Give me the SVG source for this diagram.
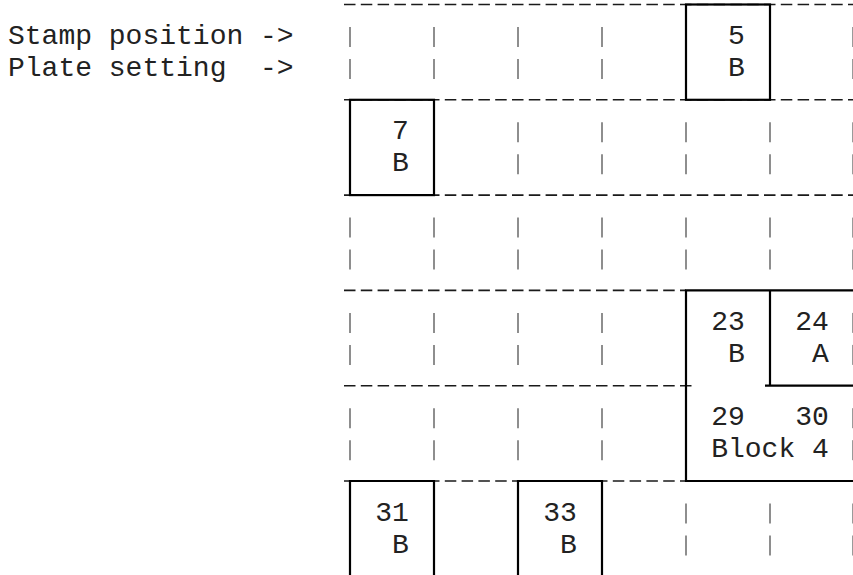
<svg xmlns="http://www.w3.org/2000/svg" width="853" height="575" viewBox="0 0 853 575">
<style>
text{font-family:"Liberation Mono","DejaVu Sans Mono",monospace;font-size:28px;fill:#222;white-space:pre}
.dash{stroke:#1a1a1a;stroke-width:1.6;stroke-dasharray:11.5 5.3;fill:none}
.bar{stroke:#6a6a6a;stroke-width:1.5;fill:none}
.edge{stroke:#9a9a9a;stroke-width:1;fill:none}
.box{stroke:#000;stroke-width:2.2;fill:none}
</style>
<rect width="853" height="575" fill="#fff"/>
<g id="labels">
<text x="8" y="44" xml:space="preserve">Stamp position -&gt;</text>
<text x="8" y="75.5" xml:space="preserve">Plate setting  -&gt;</text>
</g>
<g id="connectors">
<path class="dash" d="M344 4.5H853M344 99.8H853M344 195.1H853M344 290.4H686M344 385.7H692M344 481H853"/>
<path class="bar" d="M350 27v20M434 27v20M518 27v20M602 27v20M350 59v20M434 59v20M518 59v20M602 59v20
M518 122.3v20M602 122.3v20M686 122.3v20M770 122.3v20M518 154.3v20M602 154.3v20M686 154.3v20M770 154.3v20
M350 217.6v20M434 217.6v20M518 217.6v20M602 217.6v20M686 217.6v20M770 217.6v20M350 249.6v20M434 249.6v20M518 249.6v20M602 249.6v20M686 249.6v20M770 249.6v20
M350 312.9v20M434 312.9v20M518 312.9v20M602 312.9v20M350 344.9v20M434 344.9v20M518 344.9v20M602 344.9v20
M350 408.2v20M434 408.2v20M518 408.2v20M602 408.2v20M350 440.2v20M434 440.2v20M518 440.2v20M602 440.2v20
M686 503.5v20M770 503.5v20M686 535.5v20M770 535.5v20"/>
<path class="edge" d="M852.5 27v20M852.5 59v20M852.5 122.3v20M852.5 154.3v20M852.5 217.6v20M852.5 249.6v20M852.5 312.9v20M852.5 344.9v20M852.5 408.2v20M852.5 440.2v20M852.5 503.5v20M852.5 535.5v20"/>
</g>
<g id="stamp5">
<rect class="box" x="686" y="4.5" width="84" height="95.3"/>
<text x="728" y="44">5</text>
<text x="728" y="76">B</text>
</g>
<g id="stamp7">
<rect class="box" x="350" y="99.8" width="84" height="95.3"/>
<text x="392" y="139.3">7</text>
<text x="392" y="171.3">B</text>
</g>
<g id="block4">
<path class="box" d="M853 290.4H686V481H853"/>
<text x="711.2" y="329.9">23</text>
<text x="728" y="361.9">B</text>
<text x="711.2" y="425.2" xml:space="preserve">29   30</text>
<text x="711.2" y="457.2" xml:space="preserve">Block 4</text>
</g>
<g id="stamp24">
<path class="box" d="M770 290.4V385.7M765 385.7H853"/>
<text x="795.2" y="329.9">24</text>
<text x="812" y="361.9">A</text>
</g>
<g id="stamp31">
<path class="box" d="M350 576V481H434V576"/>
<text x="375.2" y="520.5">31</text>
<text x="392" y="552.5">B</text>
</g>
<g id="stamp33">
<path class="box" d="M518 576V481H602V576"/>
<text x="543.2" y="520.5">33</text>
<text x="560" y="552.5">B</text>
</g>
</svg>
